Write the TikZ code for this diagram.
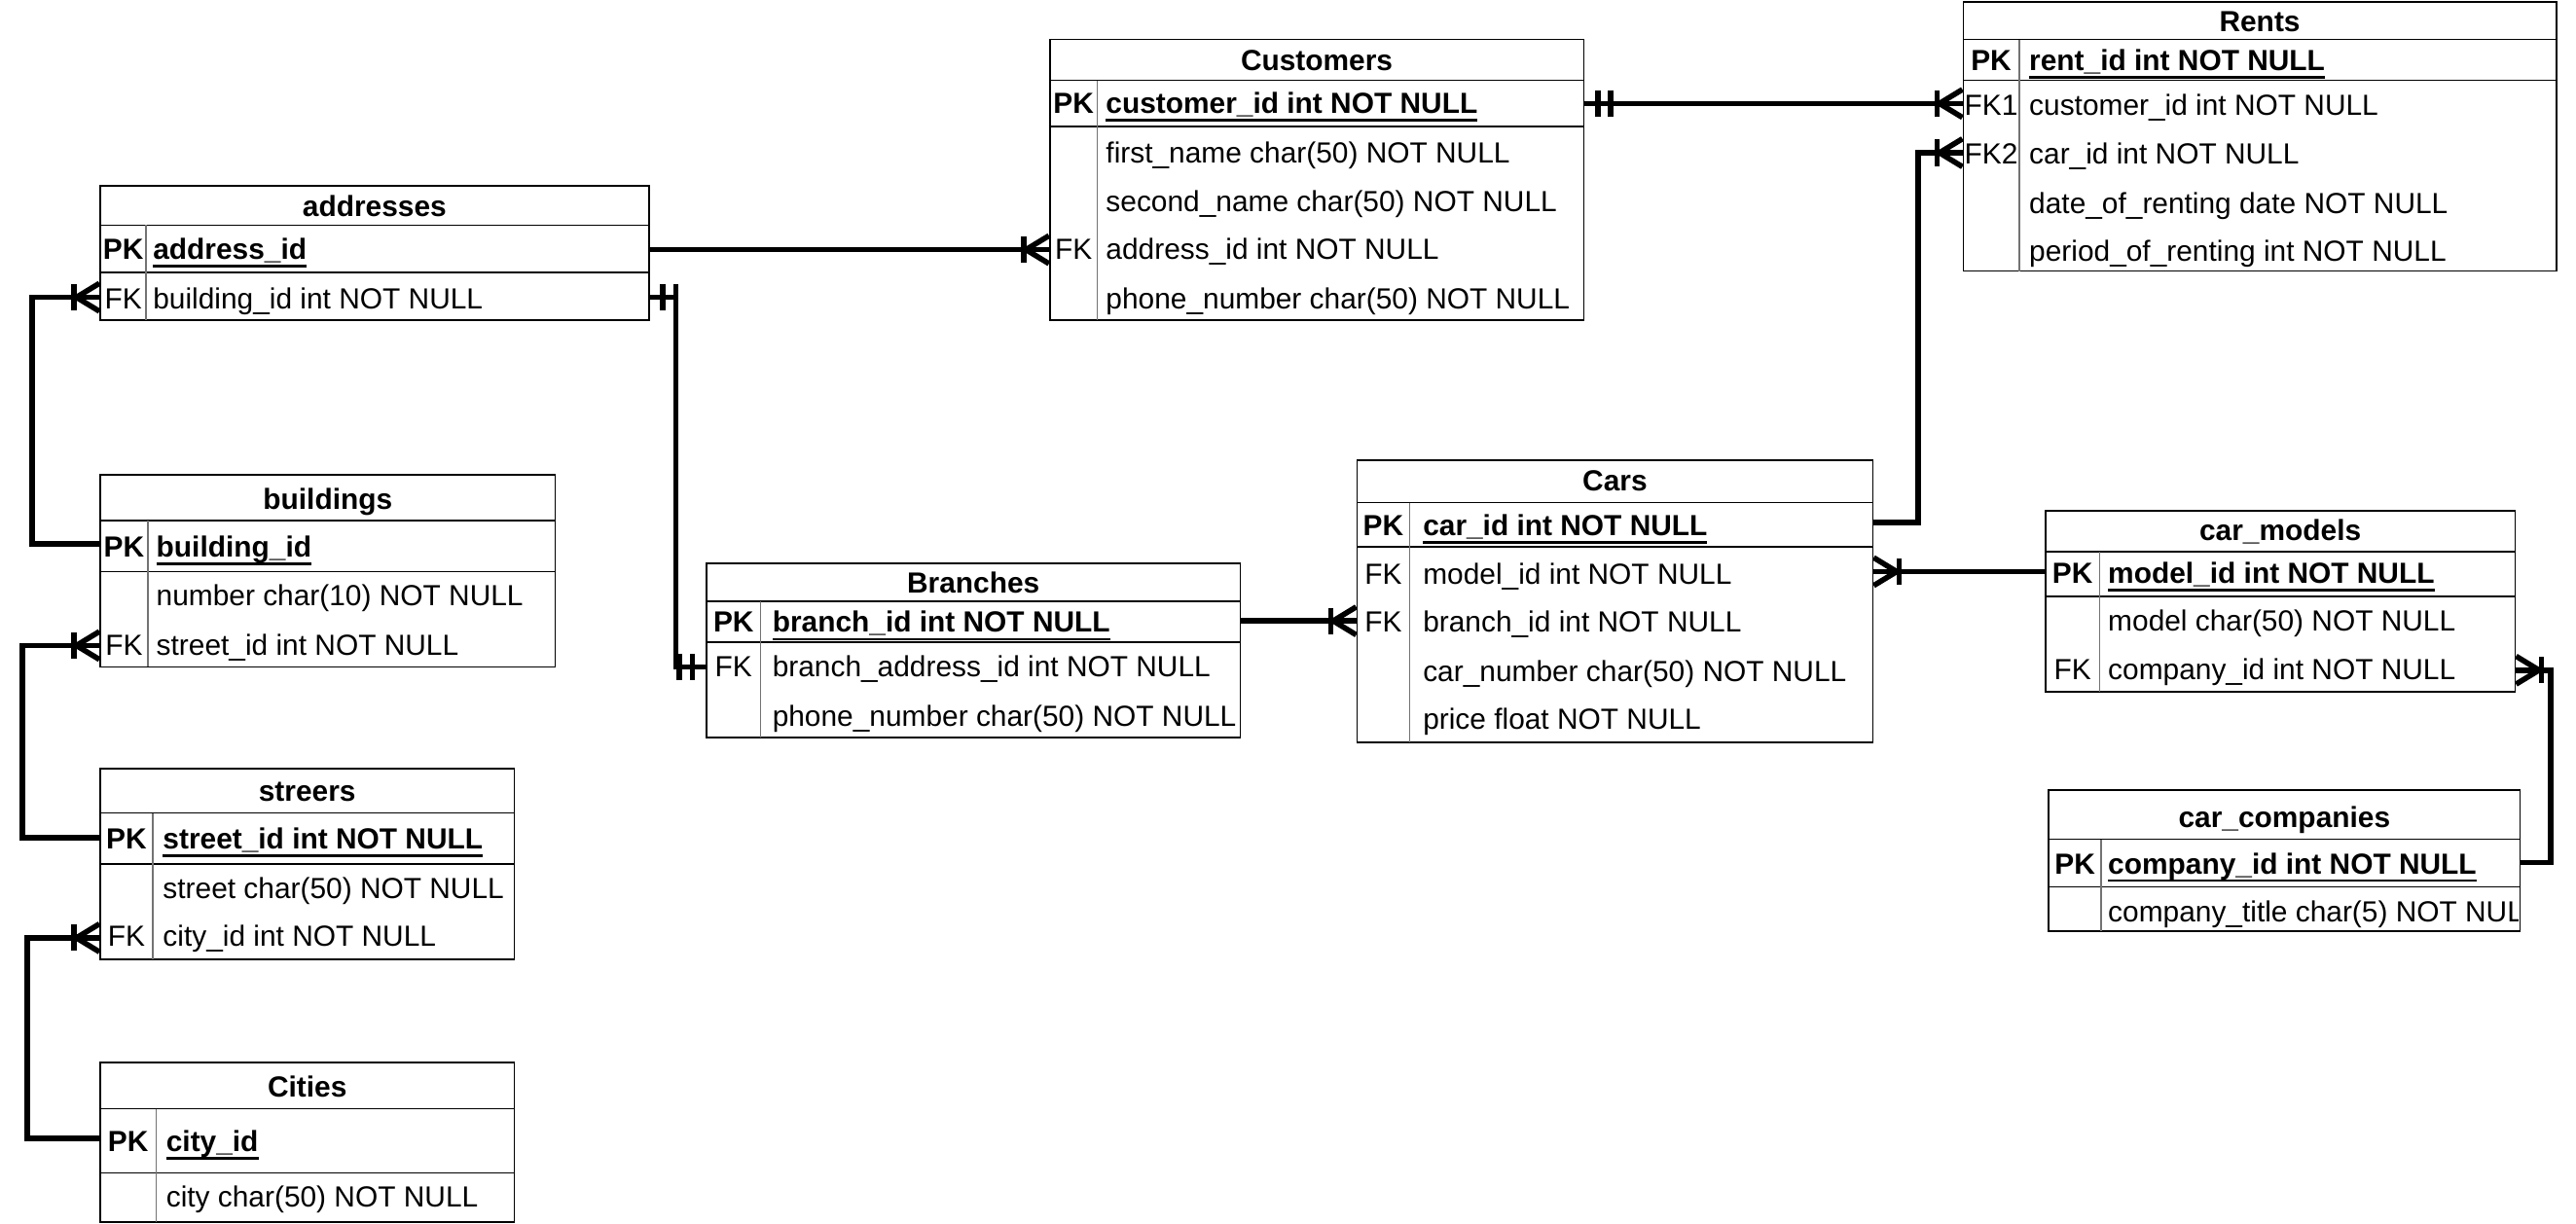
\documentclass[tikz,border=0pt]{standalone}
\usepackage{fontspec}
\setmainfont{Liberation Sans}
\usetikzlibrary{fit}
\newcommand\efont{\fontsize{17.7}{21}\selectfont}
\newcommand\pkul[1]{\setbox0\hbox{#1}\rlap{\vrule width\wd0 height -3.3pt depth 4.9pt}\box0}
\tikzset{
  x=1pt, y=-1pt,
  tablebox/.style={draw=black, line width=1pt, inner sep=0pt},
  hrule/.style={line width=0.9pt, draw=black},
  vrule/.style={line width=0.9pt, draw=black!55},
  ttl/.style={font=\efont\bfseries, anchor=base, inner sep=0pt},
  keyl/.style={font=\efont, anchor=base, inner sep=0pt},
  pkeyl/.style={font=\efont\bfseries, anchor=base, inner sep=0pt},
  fld/.style={font=\efont, anchor=base west, inner sep=0pt},
  pkfld/.style={font=\efont\bfseries, anchor=base west, inner sep=0pt},
  conn/.style={line width=3.3pt, draw=black, line join=miter},
  pics/manyone/.style={code={
    \draw[conn] (14,0) -- (0,-8.5);
    \draw[conn] (14,0) -- (0,8.5);
    \draw[conn] (15.5,-8) -- (15.5,8);
  }},
  pics/oneone/.style={code={
    \draw[conn] (8,-8) -- (8,8);
    \draw[conn] (16,-8) -- (16,8);
  }},
}
% #1 name, #2 left, #3 top, #4 right, #5 title bottom, #6 pk bottom, #7 bottom, #8 divider
\newcommand\ertable[8]{%
  \coordinate (#1-nw) at (#2,#3);
  \coordinate (#1-se) at (#4,#7);
  \node[tablebox, fit=(#1-nw)(#1-se)] (#1) {};
  \draw[hrule] (#2,#5) -- (#4,#5) (#2,#6) -- (#4,#6);
  \draw[vrule] (#8,#5) -- (#8,#7);
}
\begin{document}
\begin{tikzpicture}
\useasboundingbox (0,0) rectangle (1568,745);

% ---------------- Customers
\ertable{cust}{639}{24}{964}{49}{77}{195}{668}
\node[ttl] (cust-t) at (801.5,43) {Customers};
\node[pkeyl] (cust-k0) at (653.5,69) {PK};
\node[pkfld] (cust-f0) at (673,69) {\pkul{customer\_id int NOT NULL}};
\node[fld] (cust-f1) at (673,99) {first\_name char(50) NOT NULL};
\node[fld] (cust-f2) at (673,129) {second\_name char(50) NOT NULL};
\node[keyl] (cust-k3) at (653.5,158) {FK};
\node[fld] (cust-f3) at (673,158) {address\_id int NOT NULL};
\node[fld] (cust-f4) at (673,188) {phone\_number char(50) NOT NULL};

% ---------------- Rents
\ertable{rent}{1195}{1}{1556}{24}{49}{165}{1229}
\node[ttl] (rent-t) at (1375.5,19) {Rents};
\node[pkeyl] (rent-k0) at (1212,43) {PK};
\node[pkfld] (rent-f0) at (1235,43) {\pkul{rent\_id int NOT NULL}};
\node[keyl] (rent-k1) at (1212,70) {FK1};
\node[fld] (rent-f1) at (1235,70) {customer\_id int NOT NULL};
\node[keyl] (rent-k2) at (1212,100) {FK2};
\node[fld] (rent-f2) at (1235,100) {car\_id int NOT NULL};
\node[fld] (rent-f3) at (1235,130) {date\_of\_renting date NOT NULL};
\node[fld] (rent-f4) at (1235,159) {period\_of\_renting int NOT NULL};

% ---------------- addresses
\ertable{addr}{61}{113}{395}{137}{166}{195}{89}
\node[ttl] (addr-t) at (228,132) {addresses};
\node[pkeyl] (addr-k0) at (75,158) {PK};
\node[pkfld] (addr-f0) at (93,158) {\pkul{address\_id}};
\node[keyl] (addr-k1) at (75,188) {FK};
\node[fld] (addr-f1) at (93,188) {building\_id int NOT NULL};

% ---------------- buildings
\ertable{bld}{61}{289}{338}{317}{348}{406}{90}
\node[ttl] (bld-t) at (199.5,310) {buildings};
\node[pkeyl] (bld-k0) at (75.5,339) {PK};
\node[pkfld] (bld-f0) at (95,339) {\pkul{building\_id}};
\node[fld] (bld-f1) at (95,369) {number char(10) NOT NULL};
\node[keyl] (bld-k2) at (75.5,399) {FK};
\node[fld] (bld-f2) at (95,399) {street\_id int NOT NULL};

% ---------------- streers
\ertable{str}{61}{468}{313}{495}{526}{584}{93}
\node[ttl] (str-t) at (187,488) {streers};
\node[pkeyl] (str-k0) at (77,517) {PK};
\node[pkfld] (str-f0) at (99,517) {\pkul{street\_id int NOT NULL}};
\node[fld] (str-f1) at (99,547) {street char(50) NOT NULL};
\node[keyl] (str-k2) at (77,576) {FK};
\node[fld] (str-f2) at (99,576) {city\_id int NOT NULL};

% ---------------- Cities
\ertable{city}{61}{647}{313}{675}{714}{744}{95}
\node[ttl] (city-t) at (187,668) {Cities};
\node[pkeyl] (city-k0) at (78,701) {PK};
\node[pkfld] (city-f0) at (101,701) {\pkul{city\_id}};
\node[fld] (city-f1) at (101,735) {city char(50) NOT NULL};

% ---------------- Branches
\ertable{br}{430}{343}{755}{366}{391}{449}{463}
\node[ttl] (br-t) at (592.5,361) {Branches};
\node[pkeyl] (br-k0) at (446.5,385) {PK};
\node[pkfld] (br-f0) at (470,385) {\pkul{branch\_id int NOT NULL}};
\node[keyl] (br-k1) at (446.5,412) {FK};
\node[fld] (br-f1) at (470,412) {branch\_address\_id int NOT NULL};
\node[fld] (br-f2) at (470,442) {phone\_number char(50) NOT NULL};

% ---------------- Cars
\ertable{car}{826}{280}{1140}{306}{333}{452}{858}
\node[ttl] (car-t) at (983,299) {Cars};
\node[pkeyl] (car-k0) at (842,326) {PK};
\node[pkfld] (car-f0) at (866,326) {\pkul{car\_id int NOT NULL}};
\node[keyl] (car-k1) at (842,356) {FK};
\node[fld] (car-f1) at (866,356) {model\_id int NOT NULL};
\node[keyl] (car-k2) at (842,385) {FK};
\node[fld] (car-f2) at (866,385) {branch\_id int NOT NULL};
\node[fld] (car-f3) at (866,415) {car\_number char(50) NOT NULL};
\node[fld] (car-f4) at (866,444) {price float NOT NULL};

% ---------------- car_models
\ertable{cm}{1245}{311}{1531}{336}{363}{421}{1278}
\node[ttl] (cm-t) at (1388,329) {car\_models};
\node[pkeyl] (cm-k0) at (1261.5,355) {PK};
\node[pkfld] (cm-f0) at (1283,355) {\pkul{model\_id int NOT NULL}};
\node[fld] (cm-f1) at (1283,384) {model char(50) NOT NULL};
\node[keyl] (cm-k2) at (1261.5,414) {FK};
\node[fld] (cm-f2) at (1283,414) {company\_id int NOT NULL};

% ---------------- car_companies
\ertable{cc}{1247}{481}{1534}{511}{540}{567}{1279}
\node[ttl] (cc-t) at (1390.5,504) {car\_companies};
\node[pkeyl] (cc-k0) at (1263,532) {PK};
\node[pkfld] (cc-f0) at (1283,532) {\pkul{company\_id int NOT NULL}};
\begin{scope}
  \clip (1247,540) rectangle (1533,567);
  \node[fld] (cc-f1) at (1283,561) {company\_title char(5) NOT NULL};
\end{scope}

% ---------------- connection points
\coordinate (pAddrPK) at (addr.east |- 0,152);
\coordinate (pCustFK) at (cust.west |- 0,152);
\coordinate (pCustPK) at (cust.east |- 0,63);
\coordinate (pRentFK1) at (rent.west |- 0,63);
\coordinate (pRentFK2) at (rent.west |- 0,93);
\coordinate (pCarPK) at (car.east |- 0,318);
\coordinate (pBrPK) at (br.east |- 0,378);
\coordinate (pCarFKb) at (car.west |- 0,378);
\coordinate (pAddrFK) at (addr.east |- 0,181);
\coordinate (pBrFK) at (br.west |- 0,406);
\coordinate (pBldPK) at (bld.west |- 0,331);
\coordinate (pAddrFKw) at (addr.west |- 0,181);
\coordinate (pStrPK) at (str.west |- 0,510);
\coordinate (pBldFK) at (bld.west |- 0,393);
\coordinate (pCityPK) at (city.west |- 0,693);
\coordinate (pStrFK) at (str.west |- 0,571);
\coordinate (pCmPK) at (cm.west |- 0,348);
\coordinate (pCarFKm) at (car.east |- 0,348);
\coordinate (pCcPK) at (cc.east |- 0,525);
\coordinate (pCmFK) at (cm.east |- 0,408);

% ---------------- connectors
\draw[conn] (pAddrPK) -- (pCustFK);
\pic[rotate=180] at (pCustFK) {manyone};

\draw[conn] (pCustPK) -- (pRentFK1);
\pic at (pCustPK) {oneone};
\pic[rotate=180] at (pRentFK1) {manyone};

\draw[conn] (pCarPK) -- ++(27,0) |- (pRentFK2);
\pic[rotate=180] at (pRentFK2) {manyone};

\draw[conn] (pBrPK) -- (pCarFKb);
\pic[rotate=180] at (pCarFKb) {manyone};

\draw[conn] (pAddrFK) -- ++(16,0) |- (pBrFK);
\pic at (pAddrFK) {oneone};
\pic[rotate=180] at (pBrFK) {oneone};

\draw[conn] (pBldPK) -- ++(-41,0) |- (pAddrFKw);
\pic[rotate=180] at (pAddrFKw) {manyone};

\draw[conn] (pStrPK) -- ++(-47,0) |- (pBldFK);
\pic[rotate=180] at (pBldFK) {manyone};

\draw[conn] (pCityPK) -- ++(-44,0) |- (pStrFK);
\pic[rotate=180] at (pStrFK) {manyone};

\draw[conn] (pCmPK) -- (pCarFKm);
\pic at (pCarFKm) {manyone};

\draw[conn] (pCcPK) -- ++(18,0) |- (pCmFK);
\pic at (pCmFK) {manyone};
\end{tikzpicture}
\end{document}
